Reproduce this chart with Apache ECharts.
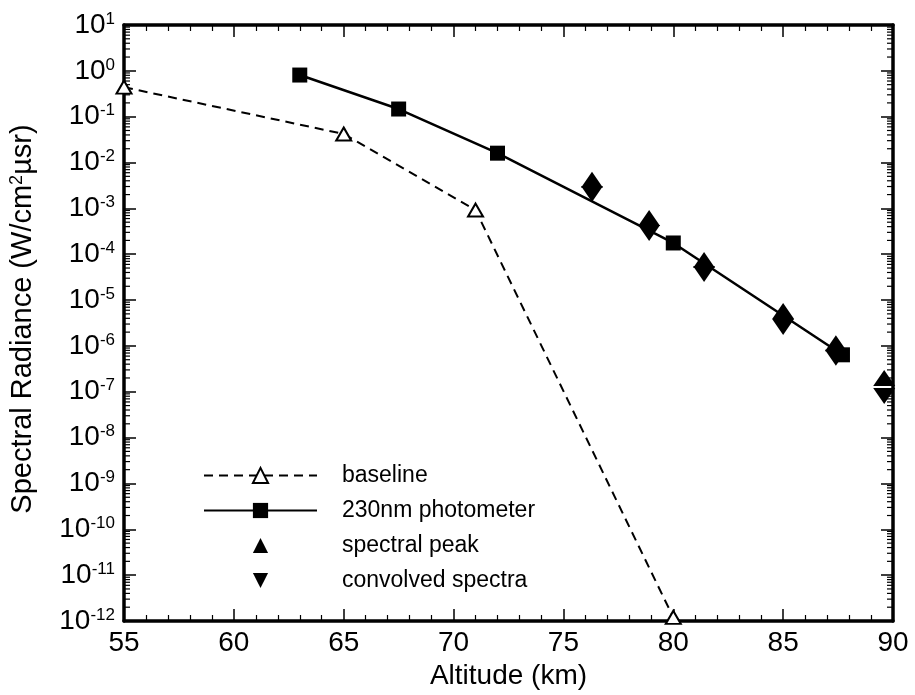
<!DOCTYPE html>
<html>
<head>
<meta charset="utf-8" />
<title>Spectral Radiance vs Altitude</title>
<script src="https://cdn.jsdelivr.net/npm/echarts@6/dist/echarts.min.js"></script>
<style>
  html, body { margin: 0; padding: 0; background: #fff; }
  #main { width: 915px; height: 695px; }
</style>
</head>
<body>
<div id="main"></div>
<script type="text/javascript">
    // altitude (km) / radiance (W/cm2 usr)
    var baselineAlt = [55, 65, 71, 80];
    var baselineVal = [0.44, 0.042, 9.2e-4, 1.2e-12];

    var photoAlt = [63, 67.5, 72, 80, 87.7];
    var photoVal = [0.81, 0.147, 0.016, 1.76e-4, 6.4e-7];

    var peakAlt = [76.3, 78.9, 81.4, 85.0, 87.4, 89.6];
    var peakVal = [4.2e-3, 6.2e-4, 7.5e-5, 5.8e-6, 1.15e-6, 2.0e-7];

    var convAlt = [76.3, 78.9, 81.4, 85.0, 87.4, 89.6];
    var convVal = [2.06e-3, 2.9e-4, 3.7e-5, 2.6e-6, 5.5e-7, 8.1e-8];

    var xMin = 55, xMax = 90;
    var yMinExp = -12, yMaxExp = 1;

    var font = '"Liberation Sans", Arial, Helvetica, sans-serif';

    function pairs(xs, ys) {
        var res = [];
        for (var i = 0; i < xs.length; i++) res.push([xs[i], ys[i]]);
        return res;
    }

    // log minor ticks 2..9 x 10^n, drawn on left and right edges
    var minorVals = [];
    for (var e = yMinExp; e < yMaxExp; e++) {
        for (var k = 2; k <= 9; k++) minorVals.push([xMin, k * Math.pow(10, e)]);
    }

    var myChart = echarts.init(document.getElementById('main'));

    var axisLineStyle = { color: '#000', width: 3.5 };
    var majorTick = { inside: true, length: 12, lineStyle: { color: '#000', width: 1.5 } };
    var minorTick = { show: true, splitNumber: 5, length: 6, lineStyle: { color: '#000', width: 1.2 } };

    var option = {
        backgroundColor: '#fff',
        animation: false,
        textStyle: { fontFamily: font, color: '#000' },
        grid: { left: 124, right: 22, top: 25, bottom: 74 },
        legend: {
            orient: 'vertical',
            left: 198,
            top: 459,
            itemWidth: 113,
            itemHeight: 19,
            itemGap: 12,
            data: ['baseline', '230nm photometer', 'spectral peak', 'convolved spectra'],
            formatter: function (name) { return '{g|}' + name; },
            textStyle: {
                fontFamily: font,
                fontSize: 23,
                color: '#000',
                rich: { g: { width: 20 } }
            }
        },
        xAxis: [
            {
                type: 'value',
                min: xMin, max: xMax, interval: 5,
                name: 'Altitude (km)',
                nameLocation: 'middle',
                nameGap: 31,
                nameTextStyle: { fontFamily: font, fontSize: 28, color: '#000' },
                axisLine: { lineStyle: axisLineStyle },
                axisTick: majorTick,
                minorTick: minorTick,
                axisLabel: { fontFamily: font, fontSize: 28, color: '#000', margin: 8 },
                splitLine: { show: false }
            },
            {
                type: 'value',
                position: 'top',
                min: xMin, max: xMax, interval: 5,
                axisLine: { onZero: false, lineStyle: axisLineStyle },
                axisTick: majorTick,
                minorTick: minorTick,
                axisLabel: { show: false },
                splitLine: { show: false }
            }
        ],
        yAxis: [
            {
                type: 'log',
                logBase: 10,
                min: Math.pow(10, yMinExp), max: Math.pow(10, yMaxExp),
                interval: 1,
                name: '{a|Spectral Radiance (W/cm}{s|2}{a|\u00b5sr)}',
                nameLocation: 'middle',
                nameGap: 86,
                nameTextStyle: {
                    padding: [0, 0, 0, 8],
                    rich: {
                        a: { fontFamily: font, fontSize: 29, color: '#000' },
                        s: { fontFamily: font, fontSize: 18, color: '#000', verticalAlign: 'top', padding: [0, 0, 12, 0] }
                    }
                },
                axisLine: { onZero: false, lineStyle: axisLineStyle },
                axisTick: majorTick,
                axisLabel: {
                    margin: 9,
                    formatter: function (v) {
                        var ex = Math.round(Math.log(v) / Math.LN10);
                        return '{b|10}{s|' + ex + '}';
                    },
                    rich: {
                        b: { fontFamily: font, fontSize: 28, color: '#000' },
                        s: { fontFamily: font, fontSize: 17, color: '#000', verticalAlign: 'top', padding: [0, 0, 12, 0] }
                    }
                },
                splitLine: { show: false }
            },
            {
                type: 'log',
                logBase: 10,
                position: 'right',
                min: Math.pow(10, yMinExp), max: Math.pow(10, yMaxExp),
                interval: 1,
                axisLine: { onZero: false, lineStyle: axisLineStyle },
                axisTick: majorTick,
                axisLabel: { show: false },
                splitLine: { show: false }
            }
        ],
        series: [
            {
                name: 'minor',
                type: 'custom',
                silent: true,
                clip: false,
                data: minorVals,
                renderItem: function (params, api) {
                    var v = api.value(1);
                    var l = api.coord([xMin, v]);
                    var r = api.coord([xMax, v]);
                    return {
                        type: 'group',
                        children: [
                            { type: 'line', shape: { x1: l[0], y1: l[1], x2: l[0] + 6, y2: l[1] }, style: { stroke: '#000', lineWidth: 1.2 } },
                            { type: 'line', shape: { x1: r[0], y1: r[1], x2: r[0] - 6, y2: r[1] }, style: { stroke: '#000', lineWidth: 1.2 } }
                        ]
                    };
                },
                z: 1
            },
            {
                name: 'baseline',
                type: 'line',
                data: pairs(baselineAlt, baselineVal),
                symbol: 'triangle',
                symbolSize: [15, 13],
                lineStyle: { color: '#000', width: 2, type: [9, 6] },
                itemStyle: { color: '#fff', borderColor: '#000', borderWidth: 2 },
                z: 3
            },
            {
                name: '230nm photometer',
                type: 'line',
                data: pairs(photoAlt, photoVal),
                symbol: 'rect',
                symbolSize: 15,
                lineStyle: { color: '#000', width: 2.5 },
                itemStyle: { color: '#000' },
                z: 3
            },
            {
                // markers only: line kept invisible so the legend draws a single symbol
                name: 'spectral peak',
                type: 'line',
                data: pairs(peakAlt, peakVal),
                symbol: 'triangle',
                symbolSize: [22, 16],
                lineStyle: { opacity: 0, width: 0 },
                itemStyle: { color: '#000' },
                z: 4
            },
            {
                name: 'convolved spectra',
                type: 'line',
                data: pairs(convAlt, convVal),
                symbol: 'triangle',
                symbolRotate: 180,
                symbolSize: [22, 16],
                lineStyle: { opacity: 0, width: 0 },
                itemStyle: { color: '#000' },
                z: 4
            }
        ]
    };
    myChart.setOption(option);
</script>
</body>
</html>
